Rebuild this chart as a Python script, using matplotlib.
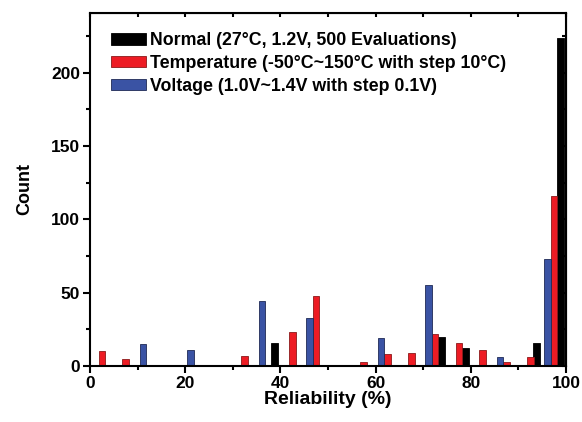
import numpy as np
import matplotlib.pyplot as plt
from matplotlib.ticker import MultipleLocator

plt.rcParams['font.family'] = ['Liberation Sans', 'DejaVu Sans']
plt.rcParams['font.weight'] = 'bold'

# bin centres (%), 5 % wide bins
bins = [2.5, 7.5, 12.5, 17.5, 22.5, 27.5, 32.5, 37.5, 42.5, 47.5,
        52.5, 57.5, 62.5, 67.5, 72.5, 77.5, 82.5, 87.5, 92.5, 97.5]
normal = [0, 0, 0, 0, 0, 0, 0, 16, 0, 0, 0, 0, 0, 0, 20, 12, 0, 0, 16, 224]
temperature = [10, 5, 0, 0, 0, 0, 7, 1, 23, 48, 0, 3, 8, 9, 22, 16, 11, 3, 6, 116]
voltage = [0, 0, 15, 0, 11, 0, 0, 44, 0, 33, 0, 0, 19, 0, 55, 0, 0, 6, 0, 73]

labels = ['Normal (27°C, 1.2V, 500 Evaluations)',
          'Temperature (-50°C~150°C with step 10°C)',
          'Voltage (1.0V~1.4V with step 0.1V)']

fig = plt.figure(figsize=(5.82, 4.22), dpi=100)
ax = fig.add_axes([0.1546, 0.1327, 0.8179, 0.8372])

x = np.array(bins)
w = 1.4
off = 1.33
hb = ax.bar(x + off, normal, w, color='black', edgecolor='black', lw=0.6)
hr = ax.bar(x, temperature, w, color='#ed1c24', edgecolor='#8b1a1a', lw=0.6)
hv = ax.bar(x - off, voltage, w, color='#3a53a4', edgecolor='#1f2a55', lw=0.6)

ax.set_xlim(0, 100)
ax.set_ylim(0, 241)
ax.xaxis.set_major_locator(MultipleLocator(20))
ax.xaxis.set_minor_locator(MultipleLocator(10))
ax.yaxis.set_major_locator(MultipleLocator(50))
ax.yaxis.set_minor_locator(MultipleLocator(25))
ax.tick_params(which='major', direction='out', length=5, width=1.5, labelsize=12.5, pad=2)
ax.tick_params(which='minor', direction='out', length=3, width=1.5)
for s in ax.spines.values():
    s.set_linewidth(1.5)

top = ax.secondary_xaxis('top')
top.set_xticks(np.arange(0, 101, 10))
top.tick_params(direction='in', length=3, width=1.5, labeltop=False)
right = ax.secondary_yaxis('right')
right.set_yticks(np.arange(0, 241, 25))
right.tick_params(direction='in', length=3, width=1.5, labelright=False)

ax.set_xlabel('Reliability (%)', fontsize=14, fontweight='bold', labelpad=0)
ax.set_ylabel('Count', fontsize=13, fontweight='bold', labelpad=13)

leg = ax.legend([hb, hr, hv], labels, loc='upper left', bbox_to_anchor=(0.03, 0.965),
                frameon=False, fontsize=12.8, handlelength=1.95, handleheight=0.6,
                handletextpad=0.25, labelspacing=0.32, borderaxespad=0)

fig.savefig('out.png', dpi=100)
